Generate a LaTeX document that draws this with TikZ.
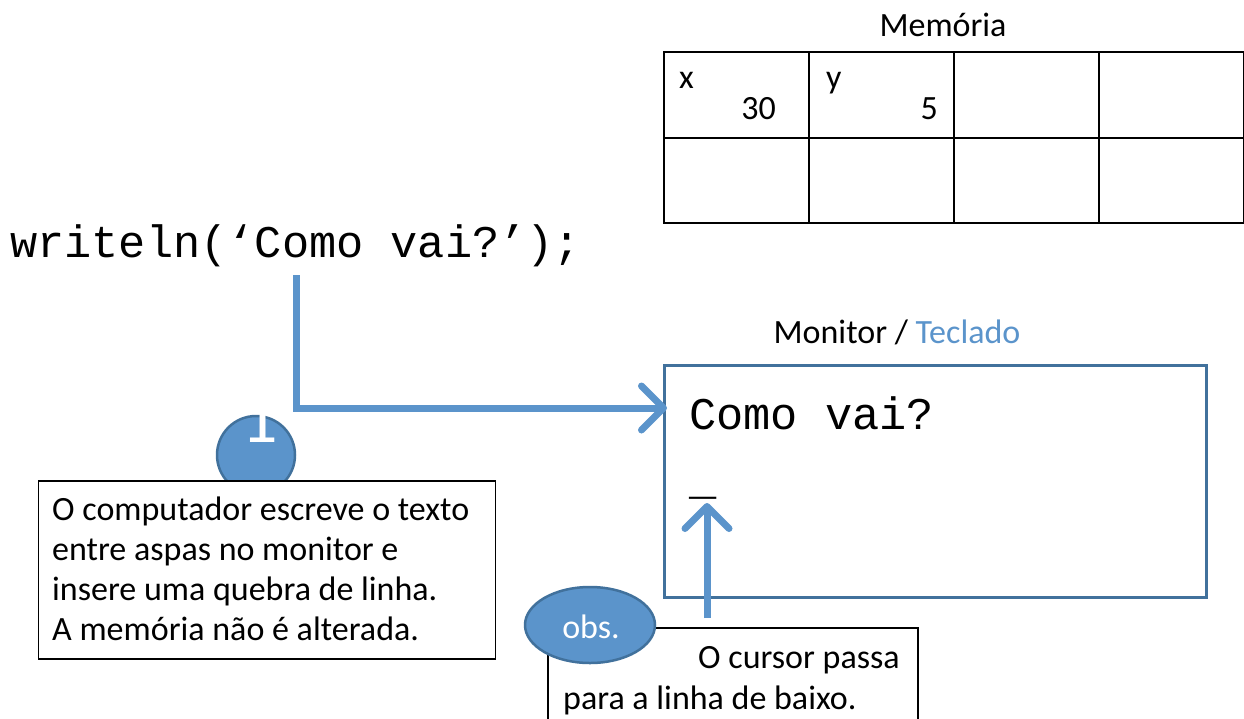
\documentclass[tikz,border=0pt]{standalone}
\usepackage{fontspec}
\setmainfont{Carlito}
\newfontfamily\codefont{Liberation Mono}
\usepackage{tikz}
\usetikzlibrary{arrows.meta,shapes.geometric,positioning}
\definecolor{arrowblue}{RGB}{91,148,203}
\definecolor{edgeblue}{RGB}{65,113,156}
\tikzset{
    bluearrow/.style={draw=arrowblue, line width=7pt,
        -{Straight Barb[length=22pt, width=44pt, round]}},
    memcell/.style={draw=black, line width=2pt, minimum width=145pt,
        minimum height=85.5pt, inner sep=0pt},
    notebox/.style={draw=black, line width=1.5pt, fill=white},
    bluemark/.style={fill=arrowblue, draw=edgeblue, line width=2.5pt},
    txt/.style={font=\fontsize{34}{40}\selectfont, inner sep=0pt},
    code/.style={font=\codefont\fontsize{45.3}{50}\selectfont, inner sep=0pt},
}
\begin{document}
\begin{tikzpicture}[x=1pt, y=-1pt]
		\useasboundingbox (0,0) rectangle (1244,718);
		% memoria
		\node[txt] (memtitle) at (943,25) {Memória};
		\foreach \i in {0,1,2,3}
			\foreach \j in {0,1}
				\node[memcell] (cell-\i-\j) at ({664+72.5+145*\i},{52+42.75+85.5*\j}) {};
		\node[txt, anchor=base west] (xname) at (679,88) {x};
		\node[txt, anchor=base east] (xval) at (776,119) {30};
		\node[txt, anchor=base west] (yname) at (826,88) {y};
		\node[txt, anchor=base east] (yval) at (938,119) {5};
		%
		\node[code, anchor=base west] (cmd) at (10,257) {writeln(‘Como vai?’);};
		% monitor
		\node[txt] (montitle) at (897,332) {Monitor / \textcolor{arrowblue}{Teclado}};
		\node[draw=edgeblue, line width=3pt, minimum width=542pt, minimum height=232pt,
			inner sep=0pt] (monitor) at (935,481) {};
		\node[code, anchor=base west] (screen) at (689,429) {Como vai?};
		\node[code, anchor=base west] (cursor) at (689,494) {\_};
		%
		\coordinate (wstart) at (296,275);
		\coordinate (wend) at (667,408);
		\draw[bluearrow] (wstart) |- (wend);
		% nota 1
		\node[bluemark, circle, minimum size=78pt, inner sep=0pt] (num) at (256,455) {};
		\node[txt, text=white, font=\fontsize{72}{72}\selectfont, anchor=base] (numtxt) at (260,442) {1};
		\node[notebox, minimum width=457pt, minimum height=178pt, inner sep=0pt] (note) at (267,570) {};
		\node[txt, align=left, anchor=north west] (notetxt) at (52,497)
			{O computador escreve o texto\\entre aspas no monitor e\\insere uma quebra de linha.\\A memória não é alterada.};
		% obs
		\coordinate (ustart) at (707,618);
		\coordinate (uend) at (707,503);
		\draw[bluearrow] (ustart) -- (uend);
		\node[notebox, minimum width=370pt, minimum height=100pt, inner sep=0pt] (obsbox) at (733,678) {};
		\node[bluemark, ellipse, minimum width=130pt, minimum height=76pt, inner sep=0pt] (obs) at (590,625) {};
		\node[txt, text=white, anchor=base] (obstxt) at (591,638) {obs.};
		\node[txt, anchor=base west] (obsline1) at (698,668) {O cursor passa};
		\node[txt, anchor=base west] (obsline2) at (563,709) {para a linha de baixo.};
	\end{tikzpicture}
\end{document}
